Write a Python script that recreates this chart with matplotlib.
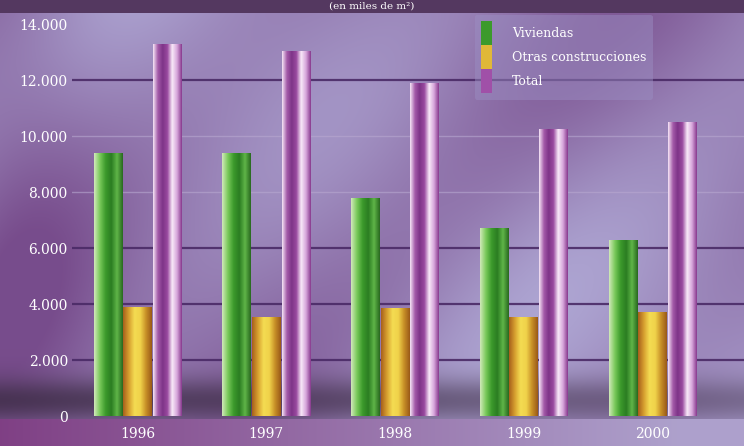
import numpy as np
import matplotlib
matplotlib.use("Agg")
import matplotlib.pyplot as plt
from matplotlib.colors import LinearSegmentedColormap
from matplotlib.patches import Patch
from matplotlib.ticker import FuncFormatter

years = ["1996", "1997", "1998", "1999", "2000"]
viviendas = [9400, 9400, 7800, 6700, 6300]
otras = [3900, 3550, 3850, 3550, 3700]
total = [13300, 13050, 11900, 10250, 10500]
labels = ["Viviendas", "Otras construcciones", "Total"]
yticks = [0, 2000, 4000, 6000, 8000, 10000, 12000, 14000]

W, H = 744, 446
fig = plt.figure(figsize=(W / 100, H / 100), dpi=100)

# background: mottled purple / lavender
bg = fig.add_axes([0, 0, 1, 1], zorder=-5)
yy, xx = np.mgrid[0:H, 0:W]
xn = xx / W
yn = yy / H
dark = np.array([0.47, 0.30, 0.55])
light = np.array([0.70, 0.68, 0.85])
w = 0.55 + 0.25 * np.sin(xn * 5.0 + 0.6) * np.cos(yn * 4.0) - 0.35 * np.exp(-((xn - 0.02) / 0.12) ** 2)
w += 0.15 * np.sin(xn * 13 + yn * 7)
w = np.clip(w, 0, 1)
img = dark[None, None, :] * (1 - w[..., None]) + light[None, None, :] * w[..., None]
# dark band above the x axis
band = np.exp(-((yy - 400) / 22.0) ** 2) * (0.75 - 0.35 * xn)
img = img * (1 - band[..., None]) + np.array([0.22, 0.16, 0.25]) * band[..., None]
# bottom label strip
strip = yy > 418
sw = np.clip(xn * 1.1, 0, 1)
scol = np.array([0.50, 0.25, 0.52])[None, None, :] * (1 - sw[..., None]) + np.array([0.68, 0.63, 0.80])[None, None, :] * sw[..., None]
img[strip] = scol[strip]
# top strip
img[yy < 13] = np.array([0.33, 0.22, 0.38])
bg.imshow(img, aspect="auto", extent=(0, W, H, 0))
bg.set_axis_off()

fig.text(0.5, 1 - 6.5 / H, "(en miles de m²)", ha="center", va="center", color="white",
         fontsize=7.5, family="DejaVu Serif")

left, right = 72 / W, 1.0
bottom, top = 30 / H, (H - 24) / H
ax = fig.add_axes([left, bottom, right - left, top - bottom])
ax.set_facecolor("none")

x = np.arange(len(years))
bw = 0.225
off = 0.23

cmaps = [
    LinearSegmentedColormap.from_list("g", ["#cfe8b8", "#79c95a", "#3c9a2c", "#2b7d22", "#5fb548", "#2a6a20"]),
    LinearSegmentedColormap.from_list("y", ["#a8601c", "#d7a030", "#f4dc52", "#f0d24a", "#c89028", "#9a5a18"]),
    LinearSegmentedColormap.from_list("p", ["#f4e2f4", "#a35aa8", "#7e3488", "#9a4aa0", "#f8e8f8", "#d8a8dc", "#8a3c90"]),
]
series = [viviendas, otras, total]
grad = np.linspace(0, 1, 64)[None, :]
for k, vals in enumerate(series):
    bars = ax.bar(x + (k - 1) * off, vals, bw, color="none", zorder=3)
    for r in bars:
        x0, y0 = r.get_x(), r.get_y()
        im = ax.imshow(grad, cmap=cmaps[k], aspect="auto", zorder=3,
                       extent=(x0, x0 + r.get_width(), y0, y0 + r.get_height()))
        im.set_clip_path(r)

ax.set_xlim(-0.51, 4.71)
ax.set_ylim(0, 14000)
ax.set_yticks(yticks)
ax.yaxis.set_major_formatter(FuncFormatter(lambda v, p: f"{int(v):,}".replace(",", ".")))
ax.set_xticks(x)
ax.set_xticklabels(years)
ax.tick_params(length=0, colors="white", labelsize=10)
ax.tick_params(axis="y", pad=3)
ax.tick_params(axis="x", pad=8)
for lab in ax.get_xticklabels() + ax.get_yticklabels():
    lab.set_family("DejaVu Serif")
for v in yticks[1:-1]:
    strong = v in (2000, 4000, 6000, 12000)
    ax.axhline(v, color="#4a2a66" if strong else "#b8a8d0", lw=1.6 if strong else 1.0,
               alpha=0.9 if strong else 0.6, zorder=1)
for s in ax.spines.values():
    s.set_visible(False)

handles = [Patch(facecolor="#3c9a2c"), Patch(facecolor="#e0b838"), Patch(facecolor="#a050a8")]
leg = ax.legend(handles, labels, loc="upper left", bbox_to_anchor=(0.59, 1.04),
                frameon=True, handlelength=0.9, handleheight=2.6, labelspacing=0.0,
                handletextpad=1.6, borderpad=0.5, prop={"family": "DejaVu Serif", "size": 9})
leg.get_frame().set_facecolor("#9c90c4")
leg.get_frame().set_edgecolor("none")
leg.get_frame().set_alpha(0.45)
for t in leg.get_texts():
    t.set_color("white")

fig.savefig("out.png", dpi=100)
